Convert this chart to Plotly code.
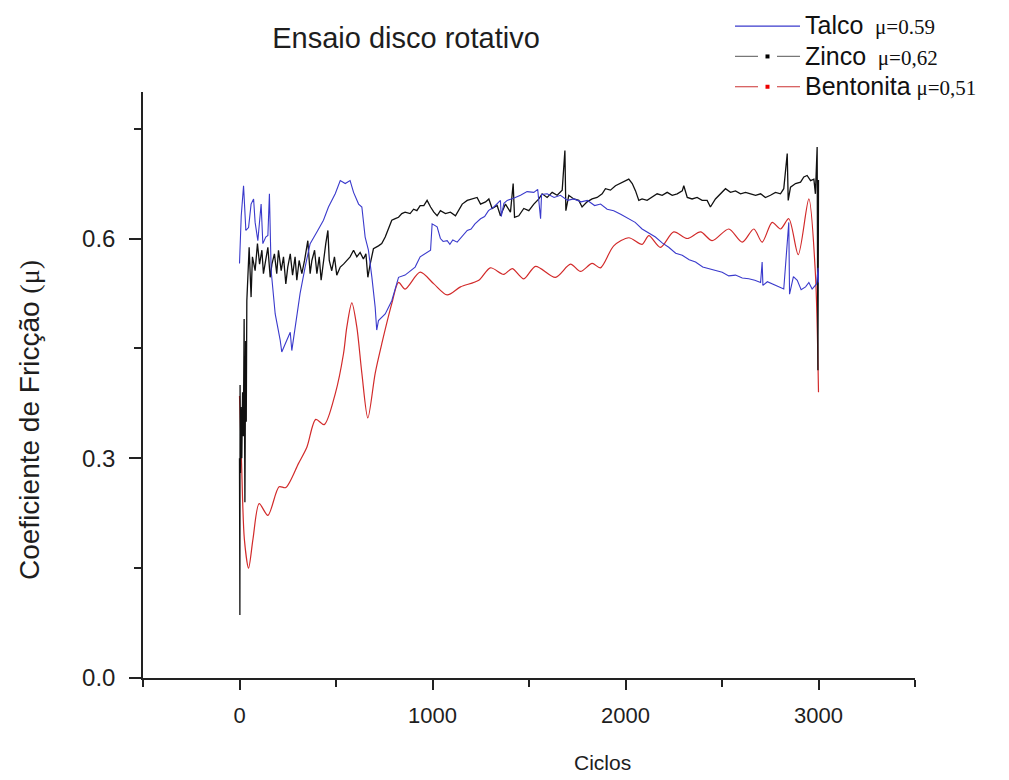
import plotly.graph_objects as go

# ---------------- data ----------------
talco_ciclos = [0, 9, 21, 33, 47, 60, 73, 81, 95, 112, 121, 136, 147, 155, 164, 185, 211, 219, 245,
                263, 271, 289, 314, 340, 366, 401, 435, 461, 496, 522, 548, 573, 591, 617, 634, 651,
                668, 686, 703, 711, 720, 755, 789, 824, 858, 910, 936, 990, 998, 1024, 1041, 1055,
                1076, 1090, 1105, 1128, 1150, 1165, 1180, 1200, 1220, 1249, 1270, 1290, 1318, 1352,
                1356, 1370, 1387, 1420, 1456, 1490, 1525, 1545, 1560, 1565, 1594, 1630, 1663, 1700,
                1732, 1770, 1802, 1840, 1871, 1905, 1939, 1975, 2017, 2050, 2086, 2120, 2155, 2190,
                2224, 2260, 2294, 2330, 2363, 2400, 2432, 2465, 2501, 2535, 2570, 2605, 2639, 2670,
                2700, 2708, 2712, 2735, 2760, 2790, 2820, 2846, 2850, 2870, 2890, 2910, 2933, 2950,
                2967, 2990, 2998, 3000]
talco_mu = [0.566, 0.631, 0.672, 0.611, 0.615, 0.647, 0.654, 0.622, 0.597, 0.647, 0.593, 0.602,
            0.604, 0.661, 0.556, 0.497, 0.461, 0.445, 0.461, 0.472, 0.447, 0.479, 0.525, 0.561,
            0.593, 0.609, 0.625, 0.643, 0.661, 0.679, 0.675, 0.679, 0.663, 0.647, 0.643, 0.602,
            0.584, 0.547, 0.506, 0.475, 0.488, 0.497, 0.515, 0.547, 0.550, 0.561, 0.575, 0.584,
            0.620, 0.616, 0.600, 0.596, 0.597, 0.592, 0.598, 0.595, 0.602, 0.606, 0.611, 0.613,
            0.620, 0.627, 0.630, 0.638, 0.643, 0.652, 0.630, 0.648, 0.652, 0.655, 0.659, 0.664,
            0.663, 0.667, 0.627, 0.660, 0.661, 0.656, 0.659, 0.652, 0.654, 0.650, 0.652, 0.645,
            0.647, 0.640, 0.638, 0.633, 0.627, 0.622, 0.613, 0.608, 0.602, 0.594, 0.588, 0.580,
            0.577, 0.571, 0.568, 0.561, 0.559, 0.556, 0.554, 0.549, 0.550, 0.546, 0.545, 0.543,
            0.540, 0.568, 0.536, 0.541, 0.538, 0.534, 0.531, 0.622, 0.524, 0.548, 0.543, 0.530,
            0.534, 0.540, 0.531, 0.538, 0.560, 0.540]

zinco_ciclos = [0, 2, 3, 5, 8, 12, 16, 20, 24, 28, 32, 35, 38, 50, 60, 67, 81, 93, 104, 116, 124,
                136, 147, 159, 168, 181, 193, 202, 216, 228, 240, 250, 263, 275, 288, 297, 309, 323,
                337, 354, 366, 375, 389, 401, 413, 423, 435, 447, 458, 465, 478, 492, 504, 522, 539,
                556, 573, 591, 608, 625, 642, 655, 665, 677, 694, 720, 737, 755, 772, 789, 807, 824,
                841, 858, 884, 902, 919, 936, 955, 972, 990, 1007, 1024, 1041, 1067, 1093, 1119,
                1136, 1154, 1180, 1206, 1231, 1249, 1275, 1292, 1309, 1335, 1352, 1378, 1404, 1418,
                1425, 1447, 1473, 1499, 1525, 1551, 1568, 1594, 1620, 1646, 1672, 1686, 1691, 1706,
                1732, 1758, 1775, 1801, 1827, 1853, 1879, 1896, 1922, 1948, 1974, 2000, 2017, 2035,
                2052, 2069, 2086, 2112, 2138, 2164, 2190, 2216, 2242, 2268, 2294, 2302, 2320, 2345,
                2371, 2397, 2423, 2440, 2466, 2492, 2518, 2544, 2570, 2596, 2622, 2648, 2674, 2700,
                2725, 2751, 2777, 2803, 2820, 2838, 2843, 2855, 2881, 2907, 2924, 2941, 2959, 2976,
                2984, 2993, 2997, 3000]
zinco_mu = [0.300, 0.086, 0.400, 0.280, 0.370, 0.300, 0.390, 0.330, 0.490, 0.240, 0.460, 0.350,
            0.515, 0.588, 0.520, 0.575, 0.556, 0.593, 0.565, 0.584, 0.552, 0.570, 0.588, 0.547,
            0.565, 0.579, 0.552, 0.584, 0.556, 0.575, 0.538, 0.561, 0.579, 0.550, 0.575, 0.543,
            0.570, 0.552, 0.570, 0.597, 0.552, 0.570, 0.584, 0.552, 0.575, 0.543, 0.570, 0.593,
            0.611, 0.570, 0.556, 0.575, 0.550, 0.561, 0.565, 0.570, 0.575, 0.584, 0.575, 0.581,
            0.572, 0.579, 0.547, 0.565, 0.586, 0.590, 0.593, 0.602, 0.615, 0.625, 0.627, 0.629,
            0.634, 0.636, 0.634, 0.640, 0.638, 0.645, 0.645, 0.652, 0.643, 0.636, 0.631, 0.638,
            0.634, 0.636, 0.631, 0.638, 0.647, 0.652, 0.654, 0.656, 0.647, 0.650, 0.654, 0.641,
            0.645, 0.631, 0.647, 0.636, 0.675, 0.629, 0.631, 0.641, 0.638, 0.647, 0.654, 0.661,
            0.656, 0.663, 0.659, 0.666, 0.720, 0.638, 0.659, 0.654, 0.652, 0.643, 0.650, 0.654,
            0.656, 0.661, 0.668, 0.666, 0.672, 0.675, 0.679, 0.681, 0.675, 0.665, 0.652, 0.654,
            0.652, 0.656, 0.661, 0.659, 0.663, 0.659, 0.661, 0.665, 0.672, 0.656, 0.654, 0.656,
            0.652, 0.652, 0.643, 0.654, 0.661, 0.668, 0.663, 0.665, 0.661, 0.663, 0.661, 0.659,
            0.661, 0.656, 0.659, 0.663, 0.661, 0.668, 0.716, 0.652, 0.670, 0.675, 0.677, 0.684,
            0.686, 0.679, 0.681, 0.661, 0.725, 0.420, 0.680]

bentonita_ciclos = [0, 10, 25, 47, 70, 102, 147, 205, 240, 306, 349, 395, 439, 496, 539, 556, 582,
                    608, 634, 665, 703, 737, 789, 824, 858, 936, 1007, 1076, 1145, 1240, 1300, 1369,
                    1413, 1473, 1534, 1637, 1715, 1767, 1827, 1870, 1939, 2017, 2086, 2121, 2181,
                    2250, 2320, 2389, 2449, 2535, 2605, 2665, 2708, 2760, 2803, 2846, 2895, 2950,
                    2984, 3000]
bentonita_mu = [0.385, 0.300, 0.190, 0.150, 0.190, 0.238, 0.222, 0.261, 0.260, 0.293, 0.315, 0.353,
                0.346, 0.388, 0.443, 0.479, 0.512, 0.479, 0.416, 0.355, 0.416, 0.456, 0.511, 0.540,
                0.531, 0.554, 0.538, 0.523, 0.534, 0.543, 0.560, 0.551, 0.559, 0.545, 0.562, 0.547,
                0.565, 0.555, 0.566, 0.560, 0.590, 0.601, 0.592, 0.604, 0.588, 0.609, 0.600, 0.609,
                0.597, 0.613, 0.595, 0.613, 0.595, 0.622, 0.613, 0.627, 0.578, 0.654, 0.552, 0.390]

serie_nomes = ["Talco", "Zinco", "Bentonita"]
serie_mu_medio = ["μ=0.59", "μ=0,62", "μ=0,51"]
x_ticks = [0, 1000, 2000, 3000]
y_ticks = [0.0, 0.3, 0.6]

titulo = "Ensaio disco rotativo"
x_titulo = "Ciclos"
y_titulo = "Coeficiente de Fricção"

# ---------------- styles ----------------
AZUL = "#3a3acc"
PRETO = "#111111"
VERMELHO = "#d22a2a"
SERIF = "'Liberation Serif', 'Times New Roman', serif"
SANS = "Liberation Sans, Arial, sans-serif"
TXT = "#1e1e1e"
W, H = 1009, 780
OFF = 8  # default page margin around the plot div

fig = go.Figure()

fig.add_trace(go.Scatter(x=bentonita_ciclos, y=bentonita_mu, mode="lines",
                         line=dict(color=VERMELHO, width=1.2, shape="spline", smoothing=0.8),
                         showlegend=False, hoverinfo="skip"))
fig.add_trace(go.Scatter(x=zinco_ciclos, y=zinco_mu, mode="lines",
                         line=dict(color=PRETO, width=1.3), showlegend=False, hoverinfo="skip"))
fig.add_trace(go.Scatter(x=talco_ciclos, y=talco_mu, mode="lines",
                         line=dict(color=AZUL, width=1.1), showlegend=False, hoverinfo="skip"))


def legend_label(nome, mu, gap):
    return (f"<span style=\"font-size:25px\">{nome}</span>{gap}"
            f"<span style=\"font-family:{SERIF};font-size:21px\">{mu}</span>")


LEG_DASH = "23px,19px,23px,60px"
fig.add_trace(go.Scatter(x=[None], y=[None], mode="lines",
                         line=dict(color=AZUL, width=1.2),
                         name=legend_label(serie_nomes[0], serie_mu_medio[0], "  ")))
fig.add_trace(go.Scatter(x=[None], y=[None], mode="lines+markers",
                         line=dict(color="#777777", width=1.2, dash=LEG_DASH),
                         marker=dict(symbol="square", size=4, color="black"),
                         name=legend_label(serie_nomes[1], serie_mu_medio[1], "  ")))
fig.add_trace(go.Scatter(x=[None], y=[None], mode="lines+markers",
                         line=dict(color="#cc3333", width=1.2, dash=LEG_DASH),
                         marker=dict(symbol="square", size=4, color="#ee0000"),
                         name=legend_label(serie_nomes[2], serie_mu_medio[2], " ")))

L, R, T, B = 143 - OFF, W - 915 + OFF, 92 - OFF, H - 678 + OFF
PW, PH = 915 - 143, 678 - 92

fig.update_layout(
    width=W, height=H,
    margin=dict(l=L, r=R, t=T, b=B, autoexpand=False),
    paper_bgcolor="white", plot_bgcolor="white",
    font=dict(family=SANS, color=TXT),
    showlegend=True,
    legend=dict(x=(730 - 143) / PW, y=1 + 86 / PH, xanchor="left", yanchor="top",
                bgcolor="rgba(0,0,0,0)", font=dict(size=21, family=SANS, color="#111111"),
                tracegroupgap=0, itemwidth=65),
    title=dict(text=titulo, x=(406 - OFF) / W, xanchor="center", y=1 - (38 - OFF) / H,
               yanchor="middle", font=dict(size=29, family=SANS, color=TXT)),
    xaxis=dict(range=[-500, 3500], tickvals=x_ticks, showgrid=False, zeroline=False,
               showline=True, linecolor="#222222", linewidth=1.5,
               ticks="outside", ticklen=10, tickwidth=1.5, tickcolor="#222222",
               ticklabelstandoff=7,
               minor=dict(ticks="outside", ticklen=7, tickwidth=1.5, tickcolor="#222222",
                          dtick=500, tick0=-500, showgrid=False),
               tickfont=dict(size=22, family=SANS, color=TXT)),
    yaxis=dict(range=[0, 0.8], tickvals=y_ticks, tickformat=".1f", showgrid=False,
               zeroline=False, showline=True, linecolor="#222222", linewidth=1.5,
               ticks="outside", ticklen=12, tickwidth=1.5, tickcolor="#222222",
               ticklabelstandoff=9,
               minor=dict(ticks="outside", ticklen=7, tickwidth=1.5, tickcolor="#222222",
                          dtick=0.15, tick0=0, showgrid=False),
               tickfont=dict(size=24, family=SANS, color=TXT)),
    annotations=[
        dict(text=x_titulo, xref="paper", yref="paper", x=(602 - 143) / PW,
             y=(678 - 762) / PH, showarrow=False, xanchor="center", yanchor="middle",
             font=dict(size=21, family=SANS, color=TXT)),
        dict(text=y_titulo + " <span style=\"font-family:" + SERIF + "\">(μ)</span>",
             xref="paper", yref="paper", x=(29 - 143) / PW, y=(678 - 420) / PH,
             textangle=-90, showarrow=False, xanchor="center", yanchor="middle",
             font=dict(size=28, family=SANS, color=TXT)),
    ],
)

fig.write_html("out.html")
